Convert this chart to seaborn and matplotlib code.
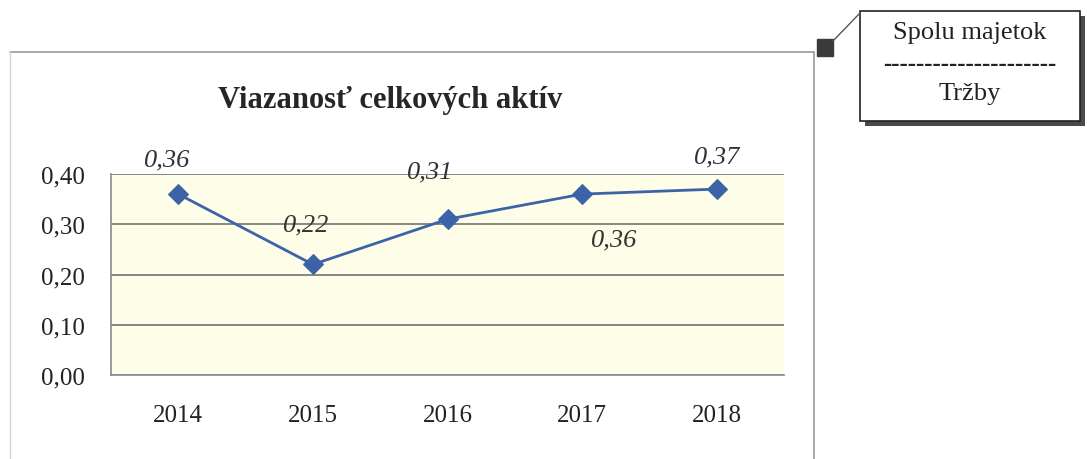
import numpy as np
import pandas as pd
import matplotlib.pyplot as plt
from matplotlib.patches import Rectangle
from matplotlib.lines import Line2D
from matplotlib.ticker import FuncFormatter, FixedLocator
import seaborn as sns

# Data
years = ['2014', '2015', '2016', '2017', '2018']
values = [0.36, 0.22, 0.31, 0.36, 0.37]
labels = ['0,36', '0,22', '0,31', '0,36', '0,37']
# posun popiskov (px) voci bodom
label_dx = [-11, -7, -17, 32, 0]
label_dy = [35, 40, 48, -45, 33]

df = pd.DataFrame({'rok': years, 'hodnota': values})

sns.set_theme(style="white")
plt.rcParams['font.family'] = ['Liberation Serif', 'DejaVu Serif']

fig = plt.figure(figsize=(10.87, 4.6), dpi=100)
ax = fig.add_axes([111 / 1087, 1 - 376 / 460, 673 / 1087, 201 / 460])
ax.set_facecolor('#fdfde8')

sns.lineplot(data=df, x='rok', y='hodnota', ax=ax, color='#3c63a8', linewidth=2,
             marker='D', markersize=10, markeredgecolor='#3c63a8', sort=False)

ax.set_xlim(-0.5, 4.5)
ax.set_ylim(0, 0.40)
ax.set_yticks([0, 0.1, 0.2, 0.3, 0.4])
ax.yaxis.set_major_formatter(FuncFormatter(lambda v, p: f"{v:.2f}".replace('.', ',')))
ax.grid(axis='y', color='#868686', linewidth=1.4)
ax.set_axisbelow(True)
ax.set_xlabel('')
ax.set_ylabel('')

for s in ['top', 'right']:
    ax.spines[s].set_visible(False)
for s in ['left', 'bottom']:
    ax.spines[s].set_color('#8a8a8a')
    ax.spines[s].set_linewidth(1.2)

ax.tick_params(axis='y', which='major', direction='out', length=7, width=1,
               color='#666666', pad=12, labelsize=18, labelcolor='#222222')
ax.tick_params(axis='x', which='major', length=0, pad=21, labelsize=18, labelcolor='#222222')
ax.xaxis.set_minor_locator(FixedLocator(np.arange(-0.5, 5, 1.0)))
ax.tick_params(axis='x', which='minor', direction='out', length=6, width=1, color='#666666')

for i, (lab, v) in enumerate(zip(labels, values)):
    ax.annotate(lab, (i, v), xytext=(label_dx[i], label_dy[i]), textcoords='offset pixels',
                ha='center', va='center', fontsize=19, style='italic', color='#333333',
                annotation_clip=False)

fig.text(390 / 1087, 1 - 101 / 460, 'Viazanosť celkových aktív', ha='center', va='center',
         fontsize=22, fontweight='bold', color='#262626')

# ramik grafu (horna a prava hrana)
W, H = 1087, 460
def fx(x):
    return x / W
def fy(y):
    return 1 - y / H

fig.add_artist(Line2D([fx(10), fx(814)], [fy(53), fy(53)], color='#9a9a9a', linewidth=1.2))
fig.add_artist(Line2D([fx(814), fx(814)], [fy(53), fy(460)], color='#9a9a9a', linewidth=1.2))
fig.add_artist(Line2D([fx(10), fx(10)], [fy(53), fy(460)], color='#d5d5d5', linewidth=1.0))
fig.add_artist(Rectangle((fx(817), fy(57)), 16 / W, 17 / H, facecolor='#3a3a3a',
                         edgecolor='#3a3a3a', transform=fig.transFigure))
fig.add_artist(Line2D([fx(833), fx(860)], [fy(42), fy(14)], color='#555555', linewidth=1.0))

# popisny ramcek s tienom
fig.add_artist(Rectangle((fx(865), fy(127)), 220 / W, 110 / H, facecolor='#4a4a4a',
                         edgecolor='none', transform=fig.transFigure))
fig.add_artist(Rectangle((fx(860), fy(122)), 220 / W, 110 / H, facecolor='white',
                         edgecolor='#222222', linewidth=1.2, transform=fig.transFigure))
fig.text(fx(970), fy(33), 'Spolu majetok', ha='center', va='center', fontsize=19, color='#222222')
fig.text(fx(970), fy(65), '-' * 21, ha='center', va='center', fontsize=18, color='#222222',
         fontweight='bold')
fig.text(fx(970), fy(94), 'Tržby', ha='center', va='center', fontsize=19, color='#222222')

plt.savefig('out.png', dpi=100)
